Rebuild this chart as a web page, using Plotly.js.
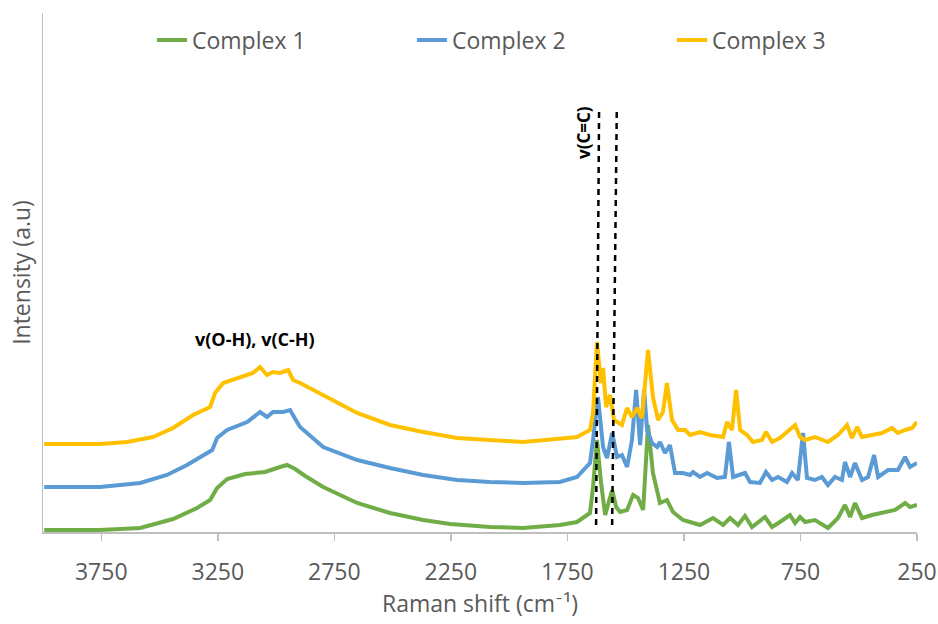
<!DOCTYPE html>
<html>
<head>
<meta charset="utf-8">
<script src="https://cdn.plot.ly/plotly-3.0.1.min.js"></script>
<style>html,body{margin:0;padding:0;background:#fff;}#chart{width:938px;height:624px;}</style>
</head>
<body>
<div id="chart"></div>
<script>
// Raman shift (cm-1) and intensity (a.u., offset stacked)
const wn1 = [3995,3755,3583,3442,3339,3283,3253,3210,3133,3047,2983,2953,2918,2875,2798,2652,2511,2369,2253,2082,1940,1782,1709,1653,1640,1623,1606,1588,1558,1541,1524,1494,1468,1447,1425,1404,1383,1353,1323,1297,1254,1224,1181,1125,1082,1052,1018,988,958,902,872,838,795,773,752,730,688,632,589,559,537,516,486,443,387,344,301,280,250];
const complex1 = [2,2,4,13,24,32,44,53,58,60,65,67,63,56,45,29,19,12,8,5,4,7,10,19,45,92,50,17,42,25,20,22,37,34,22,107,59,29,32,20,12,10,7,14,7,14,7,16,5,15,5,10,17,9,15,10,12,4,14,27,15,29,14,17,20,22,29,25,27];

const wn2 = [3995,3755,3583,3468,3382,3296,3274,3253,3210,3124,3081,3069,3039,3013,2970,2940,2910,2897,2798,2652,2511,2369,2223,2082,1940,1782,1709,1653,1640,1619,1597,1580,1558,1537,1516,1494,1473,1455,1438,1421,1408,1387,1365,1353,1331,1310,1288,1254,1224,1211,1181,1151,1108,1074,1057,1039,988,966,924,898,872,846,808,786,761,739,722,688,658,632,602,572,559,537,516,486,460,434,417,374,332,301,280,250];
const complex2 = [45,45,49,57,67,79,82,94,102,110,117,120,115,120,120,122,110,105,85,72,64,57,52,50,49,50,55,69,92,135,85,74,99,75,77,65,92,142,87,142,102,89,85,90,79,87,59,59,57,60,55,59,54,55,90,55,59,50,49,60,52,55,50,59,52,99,54,52,55,47,55,52,70,55,69,52,55,77,55,62,62,75,65,69];

const wn3 = [3995,3755,3639,3528,3442,3356,3283,3262,3227,3154,3099,3069,3039,3013,2983,2948,2927,2897,2798,2652,2511,2369,2223,2082,1940,1752,1709,1653,1640,1623,1606,1597,1584,1567,1550,1516,1494,1473,1451,1430,1404,1383,1361,1340,1323,1301,1275,1245,1224,1181,1138,1082,1065,1044,1026,1009,979,954,915,898,872,838,795,773,752,730,688,632,589,550,529,507,486,443,400,357,332,301,271,250];
const complex3 = [88,88,90,95,104,117,125,139,149,155,159,165,157,160,159,162,152,149,137,119,107,100,94,92,90,94,95,102,119,190,149,164,125,137,112,107,124,115,124,114,182,135,112,120,149,112,102,102,97,100,97,95,110,102,142,102,97,90,92,100,90,94,102,107,95,92,95,90,97,107,94,105,95,97,99,104,99,102,104,110];

const seriesNames = ["Complex 1","Complex 2","Complex 3"];
const tickValues = [3750,3250,2750,2250,1750,1250,750,250];
// dashed reference lines (bottom wavenumber, top wavenumber)
const refLineBottom = [1627,1558];
const refLineTop = [1614,1538];
const labelOH = "v(O-H), v(C-H)";
const labelCC = "v(C=C)";

const colors = ["#70AD47","#5B9BD5","#FFC000"];
const xs = [wn1,wn2,wn3], ys = [complex1,complex2,complex3];
const traces = seriesNames.map((n,i)=>({
  x: xs[i], y: ys[i], name: n, type: "scatter", mode: "lines",
  line: {color: colors[i], width: 4}
}));

const FONT = "Open Sans, Calibri, sans-serif";
const shapes = refLineBottom.map((b,i)=>({
  type: "line", xref: "x", yref: "y",
  x0: b, x1: refLineTop[i], y0: 7, y1: 424,
  line: {color: "#000", width: 2.5, dash: "6px,5px"}
}));

const layout = {
  width: 938, height: 624,
  margin: {l: 43, r: 21, t: 13, b: 92, autoexpand: false},
  paper_bgcolor: "#fff", plot_bgcolor: "#fff",
  font: {family: FONT, color: "#595959", size: 23},
  showlegend: true,
  legend: {orientation: "h", x: 0.1247, xanchor: "left", y: 0.948, yanchor: "middle",
           font: {family: FONT, size: 23, color: "#595959"}, entrywidth: 215, entrywidthmode: "pixels",
           bgcolor: "rgba(0,0,0,0)"},
  xaxis: {
    range: [4000, 250], tickvals: tickValues, ticks: "outside", ticklen: 7,
    tickcolor: "#bfbfbf", tickwidth: 1.5, showline: true, linecolor: "#bfbfbf", linewidth: 1.5,
    showgrid: false, zeroline: false, ticklabelstandoff: 12,
    tickfont: {family: FONT, size: 23, color: "#595959"},
    title: {text: "Raman shift (cm⁻¹)", font: {family: FONT, size: 23, color: "#595959"}, standoff: 8}
  },
  yaxis: {
    range: [0, 519], showticklabels: false, ticks: "", showline: true, linecolor: "#bfbfbf", linewidth: 1.5,
    showgrid: false, zeroline: false,
    title: {text: "Intensity (a.u)", font: {family: FONT, size: 23, color: "#595959"}, standoff: 4}
  },
  shapes: shapes,
  annotations: [
    {x: 3090, y: 193, xref: "x", yref: "y", text: "<b>" + labelOH + "</b>", showarrow: false,
     font: {family: FONT, size: 18, color: "#000"}, xanchor: "center", yanchor: "middle"},
    {x: 1683, y: 399, xref: "x", yref: "y", text: "<b>" + labelCC + "</b>", showarrow: false, textangle: -90,
     font: {family: FONT, size: 17, color: "#000"}, xanchor: "center", yanchor: "middle"}
  ]
};

Plotly.newPlot("chart", traces, layout, {staticPlot: true, displayModeBar: false});
</script>
</body>
</html>
